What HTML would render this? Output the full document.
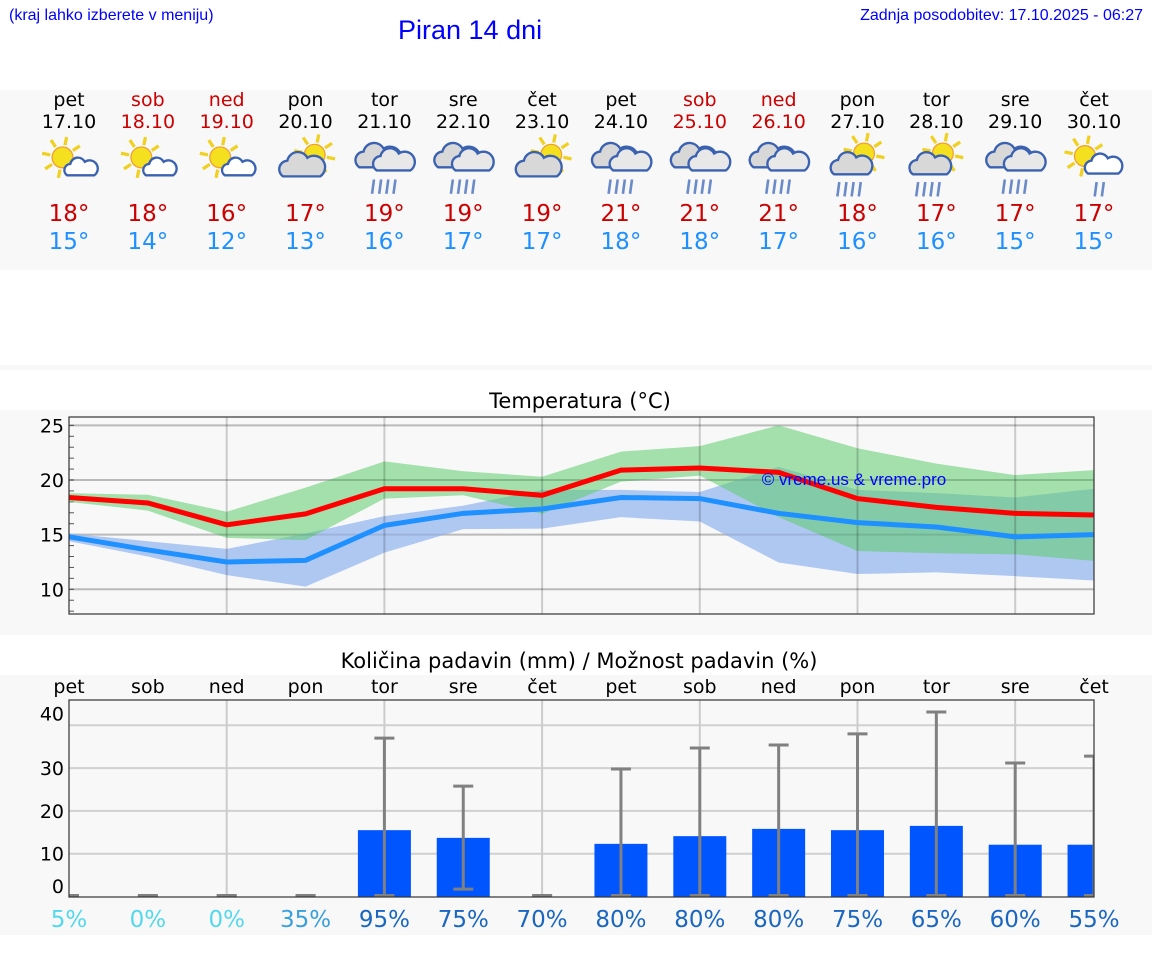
<!DOCTYPE html>
<html><head><meta charset="utf-8">
<style>
body{margin:0;width:1152px;height:975px;background:#fff;font-family:"DejaVu Sans","Liberation Sans",sans-serif;overflow:hidden;position:relative}
.a{position:absolute}
.hd{font-family:"Liberation Sans",sans-serif;color:#0000ff}
</style></head><body>
<div class="a hd" style="left:9px;top:7px;font-size:16px">(kraj lahko izberete v meniju)</div>
<div class="a hd" style="left:398px;top:15px;font-size:27px">Piran 14 dni</div>
<div class="a hd" style="right:9px;top:7px;font-size:16px">Zadnja posodobitev: 17.10.2025 - 06:27</div>
<div class="a" style="left:0;top:90px;width:1152px;height:180px;background:#f8f8f8"></div>
<div class="a" style="left:0;top:365px;width:1152px;height:5px;background:#f8f8f8"></div>
<div class="a" style="left:0;top:410px;width:1152px;height:225px;background:#f8f8f8"></div>
<div class="a" style="left:0;top:675px;width:1152px;height:260px;background:#f8f8f8"></div>
<div id="days"></div>
<svg class="a" style="left:0;top:0" width="1152" height="975" id="ch">
<text x="580" y="408" font-size="21" text-anchor="middle">Temperatura (°C)</text>
<text x="579" y="668" font-size="21" text-anchor="middle">Količina padavin (mm) / Možnost padavin (%)</text>
</svg>
<script>
const dayNames=["pet","sob","ned","pon","tor","sre","čet","pet","sob","ned","pon","tor","sre","čet"];
const dates=["17.10","18.10","19.10","20.10","21.10","22.10","23.10","24.10","25.10","26.10","27.10","28.10","29.10","30.10"];
const weekend=[0,1,1,0,0,0,0,0,1,1,0,0,0,0];
const icons=["sc","sc","sc","cs","r","r","cs","r","r","r","sr","sr","r","srl"];
const tMaxLabel=[18,18,16,17,19,19,19,21,21,21,18,17,17,17];
const tMinLabel=[15,14,12,13,16,17,17,18,18,17,16,16,15,15];
const tMax=[18.4,17.9,15.9,16.9,19.2,19.2,18.6,20.9,21.1,20.7,18.3,17.5,16.95,16.8];
const tMin=[14.8,13.6,12.5,12.65,15.85,16.95,17.35,18.4,18.3,16.95,16.1,15.7,14.8,15.0];
const maxHi=[18.8,18.65,17.1,19.3,21.7,20.8,20.3,22.6,23.1,25.0,22.9,21.5,20.45,20.9];
const maxLo=[18.0,17.2,14.7,14.5,18.3,18.6,16.9,19.85,20.4,16.6,13.5,13.3,13.2,12.6];
const minHi=[15.1,14.4,13.7,15.1,16.7,17.65,19.1,19.1,18.9,21.2,19.1,18.8,18.4,19.2];
const minLo=[14.4,13.0,11.3,10.25,13.35,15.5,15.55,16.6,16.2,12.45,11.4,11.55,11.2,10.8];
const precip=[0,0,0,0,15.5,13.7,0,12.3,14.1,15.8,15.5,16.5,12.1,12.1];
const errHi=[0,0,0,0,37,25.8,0,29.8,34.7,35.4,38,43.1,31.2,32.8];
const errLo=[0,0,0,0,0,1.5,0,0,0,0,0,0,0,0];
const prob=[5,0,0,35,95,75,70,80,80,80,75,65,60,55];
const tTicks=[10,15,20,25];
const pTicks=[0,10,20,30,40];

const NS="http://www.w3.org/2000/svg";
const svg=document.getElementById('ch');
const X=i=>69+i*78.85;
const TY=t=>480-(t-20)*10.93;
const PY=v=>896.5-v*4.28;
function el(tag,at,parent){const e=document.createElementNS(NS,tag);for(const k in at)e.setAttribute(k,at[k]);(parent||svg).appendChild(e);return e;}

const days=document.getElementById('days');
dayNames.forEach((d,i)=>{
  const c=document.createElement('div');
  c.className='a';c.style.cssText=`left:${X(i)-40}px;top:89px;width:80px;text-align:center;font-size:19px;line-height:22px`;
  
  
  const col=weekend[i]?'#cc0000':'#000';
  c.innerHTML=`<div style="color:${col}">${d}</div><div style="color:${col}">${dates[i]}</div>`+
   `<div style="height:67px"></div><div style="color:#cc0000;font-size:23px;line-height:28px">${tMaxLabel[i]}°</div><div style="color:#1e90ff;font-size:23px;line-height:28px">${tMinLabel[i]}°</div>`;
  days.appendChild(c);
});
function sun(g,cx,cy,r){
  for(let k=0;k<8;k++){const a=k*Math.PI/4+0.2;el('line',{x1:cx+Math.cos(a)*r*1.2,y1:cy+Math.sin(a)*r*1.2,x2:cx+Math.cos(a)*r*2,y2:cy+Math.sin(a)*r*2,stroke:'#f0d020','stroke-width':2.5},g);}
  el('circle',{cx,cy,r,fill:'#f5e020',stroke:'#f0a030','stroke-width':1},g);
}
function cloud(g,cx,cy,s,fill){
  el('path',{d:`M${cx-s*1.3},${cy+s*0.6} a${s*0.6},${s*0.6} 0 0 1 ${s*0.3},-${s*1.1} a${s*0.75},${s*0.75} 0 0 1 ${s*1.4},-${s*0.2} a${s*0.6},${s*0.6} 0 0 1 ${s*0.9},${s*1.3} z`,fill:fill,stroke:'#3a62b0','stroke-width':1.8},g);
}
function rain(g,cx,cy,n){for(let k=0;k<n;k++)el('line',{x1:cx-8+k*5.5,y1:cy,x2:cx-9.5+k*5.5,y2:cy+11,stroke:'#6a8ac8','stroke-width':2},g);}
icons.forEach((t,i)=>{
  const x=X(i),y=160;
  const g=el('g',{transform:`translate(${x},${y}) scale(1.3) translate(${-x},${-y})`});
  
  
  if(t==='sc'){sun(g,x-5,y-2,8);cloud(g,x+9,y+7,8,'#fff');}
  else if(t==='cs'){sun(g,x+7,y-4,8);cloud(g,x-3,y+6,11,'#d8d8d8');}
  else if(t==='r'){cloud(g,x-5,y-1,11,'#d8d8d8');cloud(g,x+7,y+2,10,'#e8e8e8');rain(g,x,y+15,4);}
  else if(t==='sr'){sun(g,x+5,y-5,8);cloud(g,x-5,y+5,10,'#d8d8d8');rain(g,x-6,y+17,4);}
  else {sun(g,x-7,y-3,8);cloud(g,x+7,y+5,9,'#fff');rain(g,x+10,y+17,2);}
});

// temperature chart
const tg=el('g',{});


el('rect',{x:69,y:417,width:1025,height:197,fill:'#f8f8f8'},tg);
tTicks.forEach(t=>{
  const l=el('line',{x1:69,x2:1094,y1:TY(t),y2:TY(t),stroke:'#d0d0d0','stroke-width':2},tg);
  
  
  const tx=el('text',{x:64,y:TY(t)+7,'font-size':19,'text-anchor':'end'},tg);tx.textContent=t;
  
  
});
for(let t=8;t<=25;t++)el('line',{x1:69,x2:74,y1:TY(t),y2:TY(t),stroke:'#555','stroke-width':1},tg);
function band(hi,lo,fill,op,name){
  let d='M'+hi.map((v,i)=>X(i)+','+TY(v)).join('L')+'L'+lo.map((v,i)=>X(i)+','+TY(v)).reverse().join('L')+'Z';
  const p=el('path',{d,fill,'fill-opacity':op},tg);
  
  
}
band(minHi,minLo,'#afc8f2',1,'min-temp-range');
band(maxHi,maxLo,'#5ccc6c',0.55,'max-temp-range');
[2,4,6,8,10,12].forEach(i=>el('line',{x1:X(i),x2:X(i),y1:417,y2:614,stroke:'#000','stroke-opacity':0.18,'stroke-width':2},tg));
tTicks.forEach(t=>el('line',{x1:69,x2:1094,y1:TY(t),y2:TY(t),stroke:'#000','stroke-opacity':0.1,'stroke-width':2},tg));
function line(arr,col,name){
  const p=el('polyline',{points:arr.map((v,i)=>X(i)+','+TY(v)).join(' '),fill:'none',stroke:col,'stroke-width':5},tg);
  
  
}
line(tMax,'#ff0000','max-temp-line');
line(tMin,'#1e90ff','min-temp-line');
const wm=el('text',{x:854,y:485,'font-size':17,fill:'#0000ff','text-anchor':'middle','font-family':'Liberation Sans,sans-serif'},tg);
wm.textContent='© vreme.us & vreme.pro';


el('rect',{x:69,y:417,width:1025,height:197,fill:'none',stroke:'#333','stroke-width':1.2},tg);

// precip chart
const pg=el('g',{});


el('defs',{},pg).innerHTML='<clipPath id="pc"><rect x="69" y="700" width="1025" height="197"/></clipPath>';
el('rect',{x:69,y:700,width:1025,height:197,fill:'#f8f8f8'},pg);
pTicks.forEach((t,k)=>{
  if(t>0)el('line',{x1:69,x2:1094,y1:PY(t),y2:PY(t),stroke:'#d0d0d0','stroke-width':2},pg);
  let ly=PY(t)+7;
  if(k===pTicks.length-1) ly=PY(t)-5;
  if(k===0) ly=893;
  const tx=el('text',{x:64,y:ly,'font-size':19,'text-anchor':'end'},pg);tx.textContent=t;
  
  
});
[2,4,6,8,10,12].forEach(i=>el('line',{x1:X(i),x2:X(i),y1:700,y2:897,stroke:'#ccc','stroke-width':2},pg));
dayNames.forEach((d,i)=>{
  const t=el('text',{x:X(i),y:693,'font-size':19,'text-anchor':'middle'},pg);t.textContent=d;
  
  
});
const cg=el('g',{'clip-path':'url(#pc)'},pg);
precip.forEach((v,i)=>{
  const x=X(i);
  if(v>0){const b=el('rect',{x:x-26.5,y:PY(v),width:53,height:PY(0)-PY(v),fill:'#0055ff'},cg);
    
    }
  const g=el('g',{stroke:'#808080','stroke-width':3},cg);
  
  
  el('line',{x1:x,x2:x,y1:PY(errHi[i]),y2:PY(errLo[i])},g);
  el('line',{x1:x-10,x2:x+10,y1:PY(errHi[i]),y2:PY(errHi[i])},g);
  el('line',{x1:x-10,x2:x+10,y1:PY(errLo[i])-1,y2:PY(errLo[i])-1},g);
  const c=prob[i]<30?'#55d8ec':prob[i]<50?'#3aa0dc':'#1a66c0';
  const pt=el('text',{x:x,y:927,'font-size':23,'text-anchor':'middle',fill:c},pg);pt.textContent=prob[i]+'%';
  
  
});
el('rect',{x:69,y:700,width:1025,height:197,fill:'none',stroke:'#333','stroke-width':1.2},pg);
</script>
</body></html>
